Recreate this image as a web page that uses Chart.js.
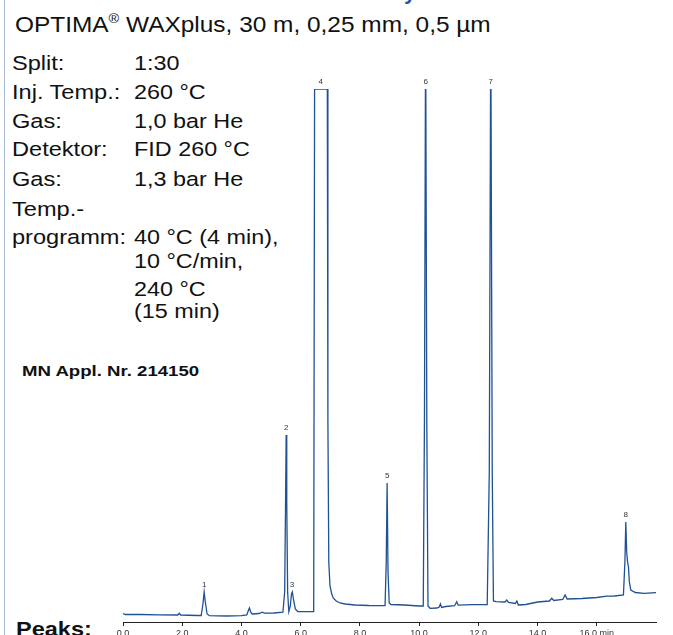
<!DOCTYPE html>
<html>
<head>
<meta charset="utf-8">
<script src="https://cdn.jsdelivr.net/npm/chart.js@4.4.1/dist/chart.umd.min.js"></script>
<style>
  html, body { margin: 0; padding: 0; background: #fff; }
  #page { position: relative; width: 673px; height: 635px; overflow: hidden; font-family: "Liberation Sans", Arial, sans-serif; color: #111; }
  #page div.t { position: absolute; white-space: nowrap; line-height: 1; transform-origin: 0 0; }
  #chart { position: absolute; left: 0; top: 0; }
  #edge { position: absolute; left: 4px; top: 0; width: 1px; height: 635px; background: #a9b9d6; }
</style>
</head>
<body>
<div id="page">
  <div id="edge"></div>
  <div class="t" style="left:404px; top:-19px; font-size:22px; font-weight:bold; color:#1d5aa8;">y</div>
  <div class="t" id="title" style="left:15px; top:14px; font-size:22px; transform:scaleX(1.11);">OPTIMA<sup style="font-size:13px; vertical-align:9px; line-height:0;">®</sup> WAXplus, 30 m, 0,25 mm, 0,5 µm</div>
  <div id="params"></div>
  <div class="t" style="left:22px; top:363px; font-size:15.5px; font-weight:bold; transform:scaleX(1.2);">MN Appl. Nr. 214150</div>
  <div class="t" style="left:16px; top:618px; font-size:21px; font-weight:bold; transform:scaleX(1.12);">Peaks:</div>
  <canvas id="chart" width="673" height="635"></canvas>
</div>
<script>
// chromatogram trace: retention time (min) and detector signal (arbitrary units)
const retentionTimes = [
  0.00, 0.08, 0.60, 1.20, 1.85, 1.90, 1.95, 2.50, 2.64, 2.70, 2.74, 2.78, 2.84, 2.92,
  3.50, 4.00, 4.18, 4.24, 4.27, 4.31, 4.36, 4.60, 4.70, 4.78, 5.10, 5.40,
  5.46, 5.49, 5.51, 5.53, 5.56, 5.60, 5.65, 5.69, 5.72, 5.76, 5.82, 5.90,
  6.20, 6.44, 6.47, 6.90, 6.92, 6.95, 6.99, 7.05, 7.10, 7.20, 7.33, 7.50, 7.84, 8.30,
  8.85, 8.89, 8.92, 8.95, 8.99, 9.05, 9.50, 10.00,
  10.14, 10.18, 10.22, 10.26, 10.30, 10.37, 10.60, 10.68, 10.72, 10.76, 10.90,
  11.20, 11.27, 11.32, 11.80, 12.30, 12.37, 12.42, 12.47, 12.51, 12.60,
  12.90, 12.96, 13.02, 13.25, 13.30, 13.35, 13.60, 14.00, 14.40, 14.48, 14.55,
  14.85, 14.93, 15.00, 15.50, 16.00, 16.34, 16.60, 16.90,
  16.95, 16.98, 17.01, 17.04, 17.07, 17.10, 17.15, 17.30, 17.60, 18.00
];
const signal = [
  8.5, 7.5, 7.5, 7.2, 7.0, 8.7, 7.0, 6.5, 6.5, 18, 30, 20, 8, 6.3,
  6.0, 6.3, 7, 12, 14, 10, 8, 8.5, 9.8, 8.8, 9.0, 9.8,
  30, 120, 187, 120, 30, 10.3, 16, 28, 30, 22, 13, 10.5,
  10.3, 10.5, 533, 533, 200, 60, 36, 28, 24, 21, 19, 18, 17, 16.5,
  16.3, 60, 139, 50, 19, 17.5, 17, 16,
  16, 200, 600, 200, 16, 13.7, 14, 15, 18, 14.5, 15.5,
  16.3, 20.3, 16.8, 17.3, 17.5, 150, 600, 150, 21, 20.3,
  20, 22, 19.5, 18.5, 21, 17, 17.5, 20, 21, 23.7, 21.5,
  22.5, 27, 23, 23.5, 24.5, 25.8, 26, 27,
  60, 100, 70, 60, 55, 40, 32, 29.5, 28.7, 29.3
];

// numbered peaks
const peakNames = ['1', '2', '3', '4', '5', '6', '7', '8'];
const peakTimes = [2.74, 5.51, 5.71, 6.68, 8.92, 10.22, 12.42, 16.98];
const peakHeights = [30, 187, 30, 533, 139, 600, 600, 100];

// x axis
const tickValues = [0, 2, 4, 6, 8, 10, 12, 14, 16];
const tickLabels = ['0.0', '2.0', '4.0', '6.0', '8.0', '10.0', '12.0', '14.0', '16.0 min'];

// method conditions (left column)
const paramLabels = ['Split:', 'Inj. Temp.:', 'Gas:', 'Detektor:', 'Gas:', 'Temp.-', 'programm:', '', '', ''];
const paramValues = ['1:30', '260 °C', '1,0 bar He', 'FID 260 °C', '1,3 bar He', '', '40 °C (4 min),', '10 °C/min,', '240 °C', '(15 min)'];
const paramBaselines = [70.7, 99, 128.3, 156.7, 186.5, 216, 244, 268.3, 296, 318.3];

const PARAM_SIZE = 20.5;
const params = document.getElementById('params');
paramLabels.forEach((lab, i) => {
  const top = paramBaselines[i] - 0.8465 * PARAM_SIZE;
  if (lab) {
    const d = document.createElement('div');
    d.className = 't';
    d.style.cssText = `left:12px; top:${top}px; font-size:${PARAM_SIZE}px; transform:scaleX(1.15);`;
    d.textContent = lab;
    params.appendChild(d);
  }
  if (paramValues[i]) {
    const v = document.createElement('div');
    v.className = 't';
    v.style.cssText = `left:134px; top:${top}px; font-size:${PARAM_SIZE}px; transform:scaleX(1.14);`;
    v.textContent = paramValues[i];
    params.appendChild(v);
  }
});

const Y_MAX = 533;

const peakLabelPlugin = {
  id: 'peakLabels',
  afterDatasetsDraw(chart) {
    const { ctx, scales: { x, y } } = chart;
    ctx.save();
    ctx.font = '8px "Liberation Sans", Arial, sans-serif';
    ctx.fillStyle = '#333';
    ctx.textAlign = 'center';
    ctx.textBaseline = 'alphabetic';
    peakNames.forEach((name, i) => {
      const px = x.getPixelForValue(peakTimes[i]);
      const py = y.getPixelForValue(Math.min(peakHeights[i], Y_MAX));
      ctx.fillText(name, px, py - 5);
    });
    ctx.restore();
  }
};

new Chart(document.getElementById('chart'), {
  type: 'line',
  data: {
    datasets: [{
      data: retentionTimes.map((t, i) => ({ x: t, y: signal[i] })),
      borderColor: '#1f5193',
      borderWidth: 1.3,
      pointRadius: 0,
      tension: 0,
      fill: false,
    }],
  },
  options: {
    responsive: false,
    animation: false,
    devicePixelRatio: 1,
    layout: { padding: { left: 123, right: 17, top: 89, bottom: 0 } },
    plugins: { legend: { display: false }, tooltip: { enabled: false } },
    scales: {
      x: {
        type: 'linear',
        min: 0,
        max: 18,
        afterBuildTicks: (axis) => { axis.ticks = tickValues.map(v => ({ value: v })); },
        afterFit: (axis) => { axis.height = 13; },
        ticks: {
          autoSkip: false,
          maxRotation: 0,
          padding: 2,
          color: '#333',
          font: { family: '"Liberation Sans", Arial, sans-serif', size: 9 },
          callback: (v) => tickLabels[tickValues.indexOf(v)],
        },
        grid: { drawOnChartArea: false, drawTicks: true, tickLength: 4, color: '#222' },
        border: { display: true, color: '#222', width: 1 },
      },
      y: { display: false, min: 0, max: Y_MAX },
    },
  },
  plugins: [peakLabelPlugin],
});
</script>
</body>
</html>
